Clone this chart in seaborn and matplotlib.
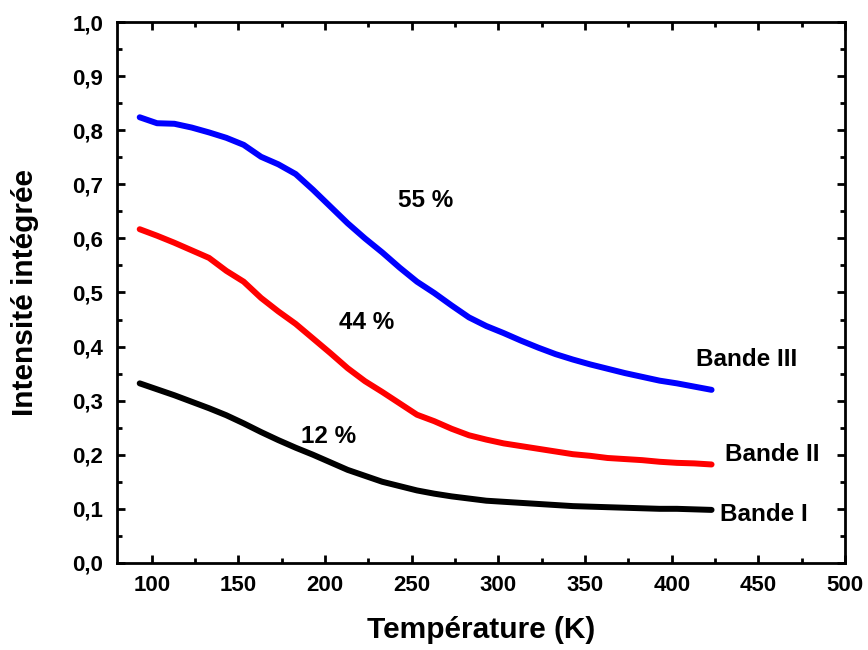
import numpy as np
import pandas as pd
import matplotlib
matplotlib.use('Agg')
import matplotlib.pyplot as plt
import seaborn as sns
from matplotlib.ticker import MultipleLocator, FuncFormatter

# temperature (K) and integrated intensity of the three bands
temperature = [93, 103, 113, 123, 133, 143, 153, 163, 173, 183, 193, 203, 213, 223, 233, 243, 253,
               263, 273, 283, 293, 303, 313, 323, 333, 343, 353, 363, 373, 383, 393, 403, 413, 423]
bande_1 = [0.332, 0.321, 0.310, 0.298, 0.286, 0.273, 0.258, 0.242, 0.227, 0.213, 0.200, 0.186, 0.172,
           0.161, 0.150, 0.142, 0.134, 0.128, 0.123, 0.119, 0.115, 0.113, 0.111, 0.109, 0.107, 0.105,
           0.104, 0.103, 0.102, 0.101, 0.100, 0.100, 0.099, 0.098]
bande_2 = [0.617, 0.605, 0.592, 0.578, 0.564, 0.540, 0.520, 0.490, 0.465, 0.442, 0.415, 0.388, 0.360,
           0.336, 0.316, 0.295, 0.274, 0.262, 0.248, 0.236, 0.228, 0.221, 0.216, 0.211, 0.206, 0.201,
           0.198, 0.194, 0.192, 0.190, 0.187, 0.185, 0.184, 0.182]
bande_3 = [0.824, 0.813, 0.812, 0.805, 0.796, 0.786, 0.773, 0.751, 0.737, 0.719, 0.690, 0.659, 0.628,
           0.600, 0.574, 0.546, 0.520, 0.499, 0.476, 0.454, 0.438, 0.425, 0.411, 0.398, 0.386, 0.376,
           0.367, 0.359, 0.351, 0.344, 0.337, 0.332, 0.326, 0.320]
band_names = ['Bande I', 'Bande II', 'Bande III']
band_colors = ['black', 'red', 'blue']
percents = ['12 %', '44 %', '55 %']

df = pd.DataFrame({
    'T': temperature * 3,
    'I': bande_1 + bande_2 + bande_3,
    'band': np.repeat(band_names, len(temperature)),
})

sns.set_style('ticks')
plt.rcParams['font.family'] = ['Liberation Sans', 'DejaVu Sans']
plt.rcParams['font.weight'] = 'bold'
plt.rcParams['text.color'] = 'black'
plt.rcParams['axes.labelcolor'] = 'black'
plt.rcParams['xtick.color'] = 'black'
plt.rcParams['ytick.color'] = 'black'
plt.rcParams['axes.edgecolor'] = 'black'

fig = plt.figure(figsize=(8.68, 6.5), dpi=100)
ax = fig.add_axes([0.135, 0.134, 0.8385, 0.832])

sns.lineplot(data=df, x='T', y='I', hue='band', palette=dict(zip(band_names, band_colors)),
             linewidth=4.3, legend=False, ax=ax)

ax.set_xlim(80, 500)
ax.set_ylim(0, 1.0)
ax.xaxis.set_major_locator(MultipleLocator(50))
ax.xaxis.set_minor_locator(MultipleLocator(25))
ax.yaxis.set_major_locator(MultipleLocator(0.1))
ax.yaxis.set_minor_locator(MultipleLocator(0.05))
ax.yaxis.set_major_formatter(FuncFormatter(lambda v, p: f'{v:.1f}'.replace('.', ',')))
ax.tick_params(which='both', direction='in', top=True, right=True, width=2, labelsize=16)
ax.tick_params(which='major', length=6)
ax.tick_params(axis='x', which='major', pad=9)
ax.tick_params(axis='y', which='major', pad=10)
ax.tick_params(which='minor', length=3.5)
for lab in ax.get_xticklabels() + ax.get_yticklabels():
    lab.set_fontweight('bold')
for s in ax.spines.values():
    s.set_linewidth(2)

ax.set_xlabel('Température (K)', fontsize=21.5, fontweight='bold', labelpad=14)
ax.set_ylabel('Intensité intégrée', fontsize=21.5, fontweight='bold', labelpad=24)

# percent annotations and band labels
pct_pos = [(202, 0.233), (224, 0.444), (258, 0.671)]
for (x, y), t in zip(pct_pos, percents):
    ax.text(x, y, t, fontsize=17.5, fontweight='bold', ha='center', va='center')
band_pos = [(453, 0.089), (458, 0.200), (443, 0.377)]
for (x, y), t in zip(band_pos, band_names):
    ax.text(x, y, t, fontsize=17.5, fontweight='bold', ha='center', va='center')

fig.savefig('out.png', dpi=100)
